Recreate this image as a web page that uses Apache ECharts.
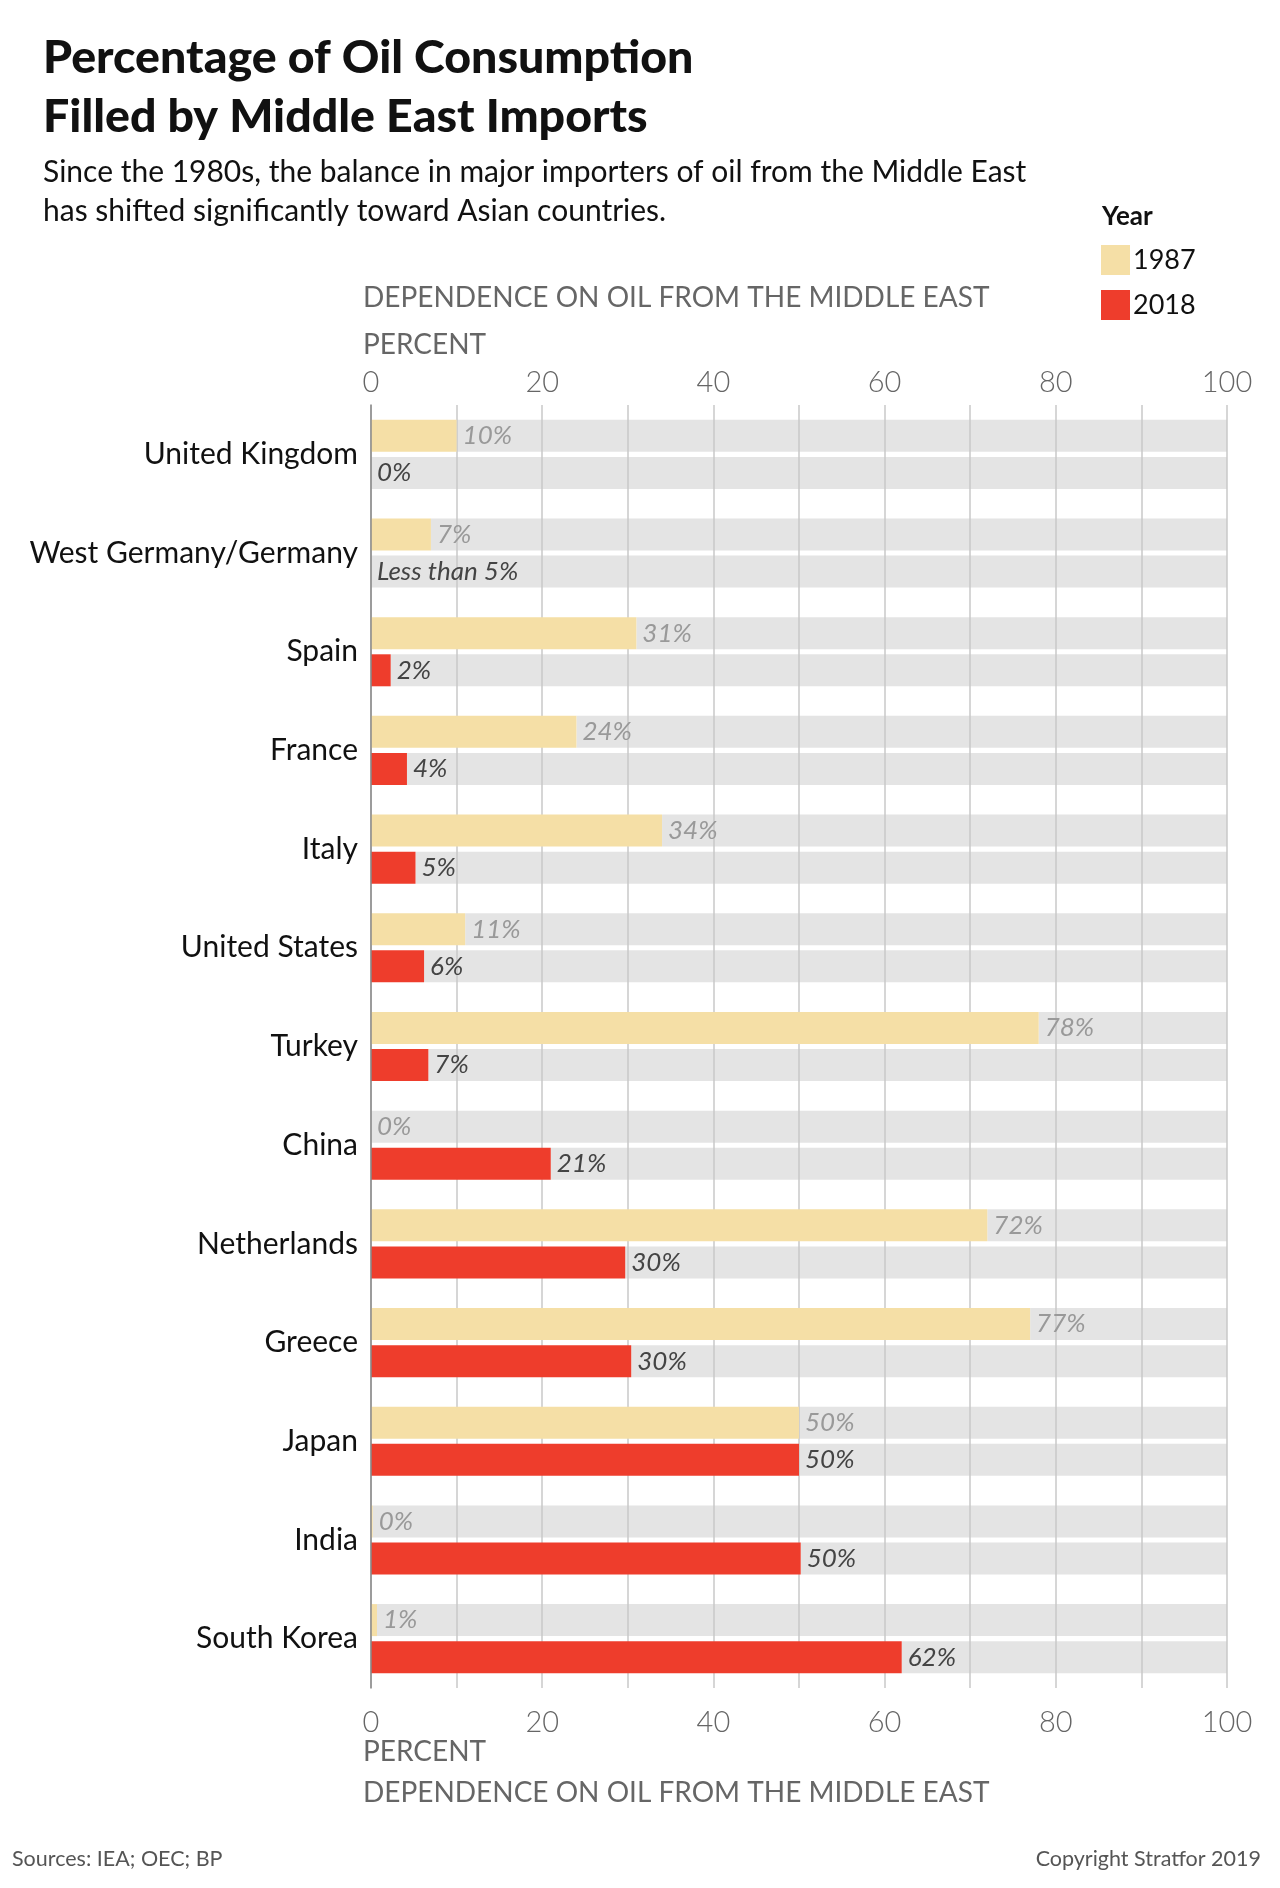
<!DOCTYPE html>
<html>
<head>
<meta charset="utf-8">
<title>Percentage of Oil Consumption Filled by Middle East Imports</title>
<script src="https://cdn.jsdelivr.net/npm/echarts@6/dist/echarts.min.js"></script>
<style>
  html, body { margin: 0; padding: 0; background: #fff; }
  #chart { width: 1280px; height: 1888px; }
</style>
</head>
<body>
<div id="chart"></div>
<script>
// countries, top to bottom
var countries = ['United Kingdom', 'West Germany/Germany', 'Spain', 'France', 'Italy', 'United States',
  'Turkey', 'China', 'Netherlands', 'Greece', 'Japan', 'India', 'South Korea']
// bar lengths (percent)
var values1987 = [10, 7, 31, 24, 34, 11, 78, 0, 72, 77, 50, 0.2, 0.7]
var values2018 = [0, 0, 2.3, 4.2, 5.2, 6.2, 6.7, 21, 29.7, 30.4, 50, 50.2, 62]
// printed labels
var labels1987 = ['10%', '7%', '31%', '24%', '34%', '11%', '78%', '0%', '72%', '77%', '50%', '0%', '1%']
var labels2018 = ['0%', 'Less than 5%', '2%', '4%', '5%', '6%', '7%', '21%', '30%', '30%', '50%', '50%', '62%']
var years = ['1987', '2018']
var axisTicks = [0, 20, 40, 60, 80, 100]

var FONT = 'Lato, "Noto Sans", sans-serif'
var colors = { y1987: '#f5dfa6', y2018: '#ee3d2c', bg: '#e4e4e4', grid: '#c8c8c8' }

var chart = echarts.init(document.getElementById('chart'))

// helper for plain text in graphic
function txt(text, x, y, size, opts) {
  opts = opts || {}
  return {
    type: 'text',
    x: x, y: y,
    style: {
      text: text,
      font: (opts.style || 'normal') + ' ' + (opts.weight || 'normal') + ' ' + size + 'px ' + FONT,
      fill: opts.color || '#111',
      textAlign: opts.align || 'left',
      textVerticalAlign: 'middle',
      verticalAlign: 'middle'
    }
  }
}

var option = {
  animation: false,
  textStyle: { fontFamily: FONT },
  grid: { left: 371, right: 53, top: 405, bottom: 200 },
  legend: {
    data: years,
    orient: 'vertical',
    left: 1101, top: 245, padding: 0,
    itemWidth: 29, itemHeight: 30, itemGap: 15,
    icon: 'rect',
    selectedMode: false,
    textStyle: { fontSize: 27, color: '#111', padding: [0, 0, 0, -2] }
  },
  graphic: [
    txt('Percentage of Oil Consumption', 43, 58, 46.5, { weight: 900 }),
    txt('Filled by Middle East Imports', 43, 117, 46.5, { weight: 900 }),
    txt('Since the 1980s, the balance in major importers of oil from the Middle East', 43, 172, 30),
    txt('has shifted significantly toward Asian countries.', 43, 211, 30),
    txt('Year', 1102, 217, 26, { weight: 'bold' }),
    txt('DEPENDENCE ON OIL FROM THE MIDDLE EAST', 363, 298, 28, { color: '#666' }),
    txt('PERCENT', 363, 345, 28, { color: '#666' }),
    txt('PERCENT', 363, 1752, 28, { color: '#666' }),
    txt('DEPENDENCE ON OIL FROM THE MIDDLE EAST', 363, 1793, 28, { color: '#666' }),
    txt('Sources: IEA; OEC; BP', 12, 1859, 21.5, { color: '#555' }),
    txt('Copyright Stratfor 2019', 1261, 1859, 21.5, { color: '#555', align: 'right' })
  ],
  xAxis: [
    {
      type: 'value', position: 'top', min: 0, max: 100, interval: 10, z: 1,
      axisLine: { show: false }, axisTick: { show: false }, splitLine: { show: false },
      axisLabel: {
        margin: 8, fontSize: 29, color: '#666', fontWeight: 300,
        formatter: function (v) { return axisTicks.indexOf(v) >= 0 ? String(v) : '' }
      }
    },
    {
      type: 'value', position: 'bottom', min: 0, max: 100, interval: 10, z: 1,
      axisLine: { show: false }, axisTick: { show: false },
      splitLine: { show: true, lineStyle: { color: colors.grid, width: 1.5 } },
      axisLabel: {
        margin: 20, fontSize: 29, color: '#666', fontWeight: 300,
        formatter: function (v) { return axisTicks.indexOf(v) >= 0 ? String(v) : '' }
      }
    }
  ],
  yAxis: {
    type: 'category', data: countries, inverse: true, z: 3,
    axisLine: { show: true, lineStyle: { color: '#888', width: 1.5 } },
    axisTick: { show: false },
    axisLabel: { margin: 13, fontSize: 30, color: '#111' }
  },
  series: [
    {
      name: '1987', type: 'bar', stack: 'a', xAxisIndex: 1, z: 2,
      data: values1987, barWidth: 32, barGap: '16%',
      itemStyle: { color: colors.y1987 },
      label: {
        show: true, position: 'right', distance: 6,
        fontSize: 26, fontStyle: 'italic', color: '#999',
        formatter: function (p) { return labels1987[p.dataIndex] }
      }
    },
    {
      name: 'bg1987', type: 'bar', stack: 'a', xAxisIndex: 1, z: 0,
      data: values1987.map(function (v) { return 100 - v }), barWidth: 32,
      itemStyle: { color: colors.bg }, silent: true
    },
    {
      name: '2018', type: 'bar', stack: 'b', xAxisIndex: 1, z: 2,
      data: values2018, barWidth: 32, barGap: '16%',
      itemStyle: { color: colors.y2018 },
      label: {
        show: true, position: 'right', distance: 6,
        fontSize: 26, fontStyle: 'italic', color: '#444',
        formatter: function (p) { return labels2018[p.dataIndex] }
      }
    },
    {
      name: 'bg2018', type: 'bar', stack: 'b', xAxisIndex: 1, z: 0,
      data: values2018.map(function (v) { return 100 - v }), barWidth: 32, barGap: '16%',
      itemStyle: { color: colors.bg }, silent: true
    }
  ]
}

chart.setOption(option)
</script>
</body>
</html>
